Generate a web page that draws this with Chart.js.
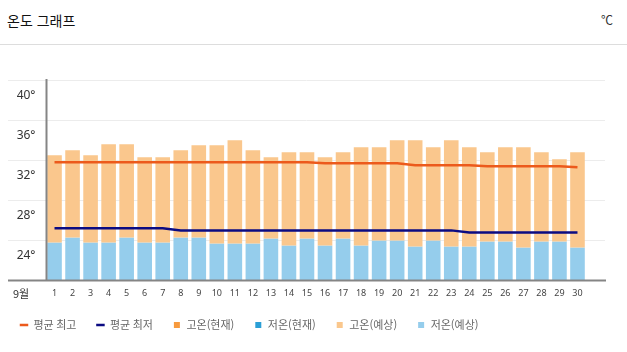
<!DOCTYPE html>
<html lang="ko">
<head>
<meta charset="utf-8">
<script src="https://cdn.jsdelivr.net/npm/chart.js@4.4.0/dist/chart.umd.min.js"></script>
<style>
  body { margin: 0; background: #fff; font-family: 'Noto Sans CJK KR', 'Noto Sans', sans-serif; }
  .wrap { position: relative; width: 627px; height: 352px; }
  .head { position: absolute; left: 0; top: 0; width: 627px; height: 44px; border-bottom: 1px solid #ddd; }
  .title { position: absolute; left: 7px; top: 10px; font-size: 14px; color: #111; }
  .unit { position: absolute; right: 14px; top: 11px; font-size: 12px; color: #333; }
  canvas { position: absolute; left: 0; top: 0; }
</style>
</head>
<body>
<div class="wrap">
  <div class="head"><span class="title">온도 그래프</span><span class="unit">℃</span></div>
  <canvas id="tempChart" width="627" height="352"></canvas>
</div>
<script>
const days = ['1','2','3','4','5','6','7','8','9','10','11','12','13','14','15',
              '16','17','18','19','20','21','22','23','24','25','26','27','28','29','30'];
const avgHigh = [31.8,31.8,31.8,31.8,31.8,31.8,31.8,31.8,31.8,31.8,31.8,31.8,31.8,31.8,31.8,
                 31.7,31.7,31.7,31.7,31.7,31.5,31.5,31.5,31.5,31.4,31.4,31.4,31.4,31.4,31.3];
const avgLow = [25.2,25.2,25.2,25.2,25.2,25.2,25.2,25.0,25.0,25.0,25.0,25.0,25.0,25.0,25.0,
                25.0,25.0,25.0,25.0,25.0,25.0,25.0,25.0,24.8,24.8,24.8,24.8,24.8,24.8,24.8];
const highNow = [];
const lowNow = [];
const highFcst = [32.5,33.0,32.5,33.6,33.6,32.3,32.3,33.0,33.5,33.5,34.0,33.0,32.3,32.8,32.8,
                  32.3,32.8,33.3,33.3,34.0,34.0,33.3,34.0,33.3,32.8,33.3,33.3,32.8,32.1,32.8];
const lowFcst = [23.8,24.3,23.8,23.8,24.3,23.8,23.8,24.3,24.3,23.7,23.7,23.7,24.2,23.5,24.2,
                 23.5,24.2,23.5,24.0,24.0,23.4,24.0,23.4,23.4,23.9,23.9,23.3,23.9,23.9,23.3];
const yTicks = [20, 24, 28, 32, 36, 40];

const frame = {
    id: 'frame',
    beforeDatasetsDraw(chart) {
        const { ctx, scales: { y } } = chart;
        ctx.save();
        ctx.strokeStyle = '#ececec';
        ctx.lineWidth = 1;
        y.ticks.forEach(t => {
            if (t.value === y.min) return;
            const py = Math.round(y.getPixelForValue(t.value)) + 0.5;
            ctx.beginPath();
            ctx.moveTo(8, py);
            ctx.lineTo(605, py);
            ctx.stroke();
        });
        ctx.restore();
    },
    afterDatasetsDraw(chart) {
        const { ctx, chartArea } = chart;
        ctx.save();
        ctx.strokeStyle = '#858585';
        ctx.lineWidth = 2;
        ctx.beginPath();
        ctx.moveTo(8, chartArea.bottom);
        ctx.lineTo(606, chartArea.bottom);
        ctx.moveTo(chartArea.left + 1, chartArea.top - 1);
        ctx.lineTo(chartArea.left + 1, chartArea.bottom);
        ctx.stroke();
        ctx.fillStyle = '#333';
        ctx.font = '11px "Noto Sans CJK KR", sans-serif';
        ctx.textAlign = 'center';
        ctx.textBaseline = 'middle';
        ctx.fillText('9월', 21, chartArea.bottom + 13);
        ctx.restore();
    },
};

new Chart(document.getElementById('tempChart'), {
    type: 'bar',
    data: {
        labels: days,
        datasets: [
            {
                type: 'line', label: '평균 최고', data: avgHigh,
                borderColor: '#ec5a1c', backgroundColor: '#ec5a1c', borderWidth: 2.5,
                pointRadius: 0, pointStyle: 'line', tension: 0,
            },
            {
                type: 'line', label: '평균 최저', data: avgLow,
                borderColor: '#0b0b82', backgroundColor: '#0b0b82', borderWidth: 2.5,
                pointRadius: 0, pointStyle: 'line', tension: 0,
            },
            { label: '고온(현재)', data: highNow, backgroundColor: '#f79a3e', pointStyle: 'rect', grouped: false },
            { label: '저온(현재)', data: lowNow, backgroundColor: '#2b9fd6', pointStyle: 'rect', grouped: false },
            {
                label: '고온(예상)', data: highFcst.map((h, i) => [lowFcst[i], h]),
                backgroundColor: '#fac78d', pointStyle: 'rect', grouped: false,
            },
            { label: '저온(예상)', data: lowFcst, backgroundColor: '#95cdec', pointStyle: 'rect', grouped: false },
        ],
    },
    options: {
        responsive: false,
        animation: false,
        layout: { padding: { top: 80, left: 0, right: 40.5, bottom: 11.5 } },
        datasets: { bar: { categoryPercentage: 1, barPercentage: 0.81, borderWidth: 0 } },
        plugins: {
            tooltip: { enabled: false },
            legend: {
                position: 'bottom',
                align: 'start',
                labels: {
                    usePointStyle: true,
                    boxWidth: 8,
                    boxHeight: 6,
                    padding: 20,
                    color: '#666',
                    font: { family: 'Noto Sans CJK KR', size: 11 },
                },
            },
        },
        scales: {
            x: {
                grid: { display: false, drawTicks: false },
                border: { display: false },
                ticks: { color: '#444', font: { family: 'Noto Sans', size: 9 }, padding: 8, maxRotation: 0, autoSkip: false },
                afterFit(s) { s.height = 19; },
            },
            y: {
                min: yTicks[0],
                max: yTicks[yTicks.length - 1],
                afterBuildTicks(s) { s.ticks = yTicks.map(v => ({ value: v })); },
                grid: { display: false, drawTicks: false },
                border: { display: false },
                ticks: {
                    callback: v => (v === yTicks[0] ? '' : v + '°'),
                    labelOffset: 15.5,
                    padding: 10,
                    color: '#333',
                    font: { family: 'Noto Sans', size: 12 },
                },
                afterFit(s) { s.width = 45.5; },
            },
        },
    },
    plugins: [frame],
});
</script>
</body>
</html>
